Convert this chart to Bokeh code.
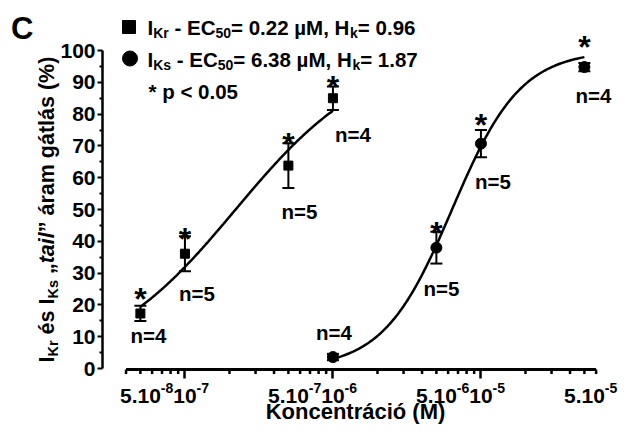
import math
import numpy as np
from bokeh.plotting import figure
from bokeh.models import (Range1d, FixedTicker, Whisker, TeeHead, ColumnDataSource, Label,
                          CustomJSTickFormatter)
from bokeh.embed import file_html
from bokeh.resources import INLINE
from bokeh.core.properties import value

# ---------------- data ----------------
kr_conc = [5e-8, 1e-7, 5e-7, 1e-6]
kr_mean = [17.3, 36.1, 63.8, 85.0]
kr_sem = [2.4, 5.5, 7.0, 3.7]
kr_n = ["n=4", "n=5", "n=5", "n=4"]
kr_sig = [True, True, True, True]

ks_conc = [1e-6, 5e-6, 1e-5, 5e-5]
ks_mean = [3.6, 38.0, 70.7, 94.8]
ks_sem = [1.0, 5.0, 4.3, 1.3]
ks_n = ["n=4", "n=5", "n=5", "n=4"]
ks_sig = [False, True, True, True]

kr_ec50, kr_hill = 0.22e-6, 0.96
ks_ec50, ks_hill = 6.38e-6, 1.87

x_ticks = [5e-8, 1e-7, 5e-7, 1e-6, 5e-6, 1e-5, 5e-5]
x_tick_base = ["5.10", "10", "5.10", "10", "5.10", "10", "5.10"]
x_tick_exp = ["-8", "-7", "-7", "-6", "-6", "-5", "-5"]
x_decades = [1e-7, 1e-6, 1e-5]
x_axis_span = (4e-8, 6e-5)
x_minor = [k * 10.0 ** e for e in (-8, -7, -6, -5) for k in range(2, 10)
           if x_axis_span[0] * 0.999 <= k * 10.0 ** e <= x_axis_span[1] * 1.001]
y_ticks = list(range(0, 101, 10))
y_minor = list(range(5, 100, 10))


def lg(values):
    """Concentrations are plotted on a log10 scale."""
    return [math.log10(v) for v in values]


# ---------------- layout (page pixels; the frame fills the whole canvas) ----------------
W, H = 626, 437
AXIS_X_PX, AXIS_Y_PX = 102, 369
LOG_AT_AXIS, PX_DEC = -7.557, 148.0
Y0, PX_U = 368.0, 3.18
FONT = "Liberation Sans"
F_MAIN, F_SUB = 20.5, 14
F_TICK, F_SUP = 21, 14
BL = 0.3   # baseline correction (fraction of font size)


def X(px):
    return LOG_AT_AXIS + (px - AXIS_X_PX) / PX_DEC


def Y(py):
    return (Y0 - py) / PX_U


EM = {' ': 278, '-': 333, '.': 278, ',': 278, '=': 584, '<': 584, '*': 389, '(': 333, ')': 333,
      '%': 889, 'µ': 611, '„': 500, '”': 500, 'I': 278, 'K': 722, 'E': 667, 'C': 722, 'M': 833,
      'H': 722, 'r': 389, 's': 556, 'k': 556, 'p': 611, 'a': 556, 'á': 556, 'é': 556, 'm': 889,
      'g': 611, 't': 333, 'l': 278, 'i': 278, 'n': 611, 'o': 611, 'ó': 611, 'c': 556, 'e': 556}


def tw(s, size):
    return sum(EM.get(ch, 556) for ch in s) / 1000.0 * size


p = figure(width=W, height=H, output_backend="svg", toolbar_location=None,
           x_range=Range1d(X(0), X(W)), y_range=Range1d(Y(H), Y(0)),
           min_border_left=0, min_border_right=0, min_border_top=0, min_border_bottom=0)
p.title.visible = False
p.grid.visible = False
p.outline_line_color = None
p.background_fill_color = "white"
p.border_fill_color = "white"

# x axis: library axis for the decade ticks; rule and minor ticks drawn along the same scale
xa = p.xaxis[0]
xa.fixed_location = Y(AXIS_Y_PX)
xa.ticker = FixedTicker(ticks=lg(x_decades), minor_ticks=[])
xa.formatter = CustomJSTickFormatter(code="return ''")
xa.bounds = tuple(lg(x_axis_span))
xa.axis_line_color = None
xa.major_tick_out, xa.major_tick_in, xa.major_tick_line_width = 9, 0, 2.5
xa.minor_tick_line_color = None

AX_LW, MINOR_W, MINOR_LEN = 3, 2.5, 3
span_lg = lg(x_axis_span)
rule = p.quad(left=[span_lg[0]], right=[span_lg[1]], top=[Y(AXIS_Y_PX - AX_LW / 2)],
              bottom=[Y(AXIS_Y_PX + AX_LW / 2)], fill_color="black", line_color=None)
minor_lg = lg(x_minor)
half = MINOR_W / 2 / PX_DEC
minor = p.quad(left=[v - half for v in minor_lg], right=[v + half for v in minor_lg],
               top=[Y(AXIS_Y_PX)] * len(minor_lg), bottom=[Y(AXIS_Y_PX + AX_LW / 2 + MINOR_LEN)] * len(minor_lg),
               fill_color="black", line_color=None)
rule.level = "overlay"
minor.level = "overlay"

ya = p.yaxis[0]
ya.fixed_location = X(AXIS_X_PX)
ya.ticker = FixedTicker(ticks=y_ticks, minor_ticks=y_minor)
ya.bounds = (0, 100)
ya.axis_line_width = 2.5
ya.major_tick_out, ya.major_tick_in, ya.major_tick_line_width = 5, 0, 2
ya.minor_tick_out, ya.minor_tick_in, ya.minor_tick_line_width = 3, 0, 2
ya.major_label_text_font = FONT
ya.major_label_text_font_style = "bold"
ya.major_label_text_font_size = f"{F_TICK}px"
ya.major_label_text_color = "black"
ya.major_label_standoff = 2


def hill(c, ec50, h):
    return 100.0 / (1.0 + (ec50 / c) ** h)


for conc, ec50, h in ((kr_conc, kr_ec50, kr_hill), (ks_conc, ks_ec50, ks_hill)):
    lx = np.linspace(math.log10(conc[0]), math.log10(conc[-1]), 200)
    p.line(lx, hill(10 ** lx, ec50, h), line_width=2.5, line_color="black")

for conc, mean, sem, marker, size in ((kr_conc, kr_mean, kr_sem, "square", 9),
                                      (ks_conc, ks_mean, ks_sem, "circle", 11)):
    src = ColumnDataSource(dict(x=lg(conc), y=mean,
                                lo=[m - s for m, s in zip(mean, sem)],
                                hi=[m + s for m, s in zip(mean, sem)]))
    p.add_layout(Whisker(source=src, base="x", lower="lo", upper="hi", dimension="height",
                         line_width=2, line_color="black",
                         lower_head=TeeHead(size=12, line_width=2, line_color="black"),
                         upper_head=TeeHead(size=12, line_width=2, line_color="black")))
    p.scatter("x", "y", source=src, marker=marker, size=size, fill_color="black", line_color="black")

# significance stars and n labels (offsets in px from the error-bar ends)
STAR_F = 32
star_dy = [[13, 4, 6, 6], [0, 5, 11, 22]]
n_dx = [[8, 12, 11, 20], [1, 5, 12, 9]]
n_dy = [[13, 21, 22, 23], [-26, 24, 23, 23]]
for si, (conc, mean, sem, sig, ns) in enumerate(((kr_conc, kr_mean, kr_sem, kr_sig, kr_n),
                                                 (ks_conc, ks_mean, ks_sem, ks_sig, ks_n))):
    sx, sy = [], []
    for i, c in enumerate(conc):
        if sig[i]:
            sx.append(math.log10(c))
            sy.append(mean[i] + sem[i] + (star_dy[si][i] - 0.2 * STAR_F) / PX_U)
    p.text(sx, sy, text=["*"] * len(sx), text_font=value(FONT), text_font_style="bold",
           text_font_size=f"{STAR_F}px", text_align="center", text_baseline="alphabetic",
           text_color="black")
    ny, nx_off = [], []
    for i, c in enumerate(conc):
        base = mean[i] - sem[i] if n_dy[si][i] >= 0 else mean[i]
        ny.append(base - (n_dy[si][i] + (0.36 - BL) * F_MAIN) / PX_U)
        nx_off.append(n_dx[si][i])
    p.text(lg(conc), ny, text=ns, x_offset=nx_off, text_font=value(FONT), text_font_style="bold",
           text_font_size=f"{F_MAIN}px", text_align="center", text_baseline="alphabetic",
           text_color="black")

# x tick labels with superscript exponents
TICK_BASE_PY = 401.7 - BL * F_TICK
p.text(lg(x_ticks), [Y(TICK_BASE_PY)] * len(x_ticks), text=x_tick_base, text_font=value(FONT),
       text_font_style="bold", text_font_size=f"{F_TICK}px", text_align="center",
       text_baseline="alphabetic", text_color="black")
p.text(lg(x_ticks), [Y(TICK_BASE_PY - 8)] * len(x_ticks), text=x_tick_exp,
       x_offset=[tw(b, F_TICK) / 2 for b in x_tick_base], text_font=value(FONT),
       text_font_style="bold", text_font_size=f"{F_SUP}px", text_align="left",
       text_baseline="alphabetic", text_color="black")


def label(px, py, text, size, style="bold", angle=0.0, align="left"):
    p.add_layout(Label(x=X(px), y=Y(py), text=text, text_font=FONT, text_font_style=style,
                       text_font_size=f"{size}px", text_align=align, text_baseline="alphabetic",
                       text_color="black", angle=angle))


def rich(px, py, pieces, main, sub, vertical=False):
    pos = 0.0
    for text, kind in pieces:
        size = sub if kind == "sub" else main
        style = "bold italic" if kind == "it" else "bold"
        shift = 4 - BL * size if kind == "sub" else -BL * size
        core = text.strip(" ")
        lead = tw(text[:len(text) - len(text.lstrip(" "))], size)
        if vertical:
            label(px + shift, py - pos - lead, core, size, style, angle=math.pi / 2)
        else:
            label(px + pos + lead, py + shift, core, size, style)
        pos += tw(text, size)


# x axis title
F_TITLE = 22
label(355, 418 - BL * F_TITLE, "Koncentráció (M)", F_TITLE, align="center")

# y axis title (rotated, with subscripts and italics)
rich(53, 362, [("I", "n"), ("Kr", "sub"), (" és I", "n"), ("Ks", "sub"), (" „", "n"),
               ("tail", "it"), ("” áram gátlás (%)", "n")], 21.5, 14.5, vertical=True)

# panel letter
label(10.5, 37 - BL * 31, "C", 31)

# legend
p.scatter([X(128.5)], [Y(26.5)], marker="square", size=13, fill_color="black", line_color="black")
p.scatter([X(129.5)], [Y(58)], marker="circle", size=15, fill_color="black", line_color="black")
rich(147, 33, [("I", "n"), ("Kr", "sub"), (" - EC", "n"), ("50", "sub"), (f"= {kr_ec50 * 1e6:.2f} µM, H", "n"),
               ("k", "sub"), (f"= {kr_hill:.2f}", "n")], F_MAIN, F_SUB)
rich(147, 65, [("I", "n"), ("Ks", "sub"), (" - EC", "n"), ("50", "sub"), (f"= {ks_ec50 * 1e6:.2f} µM, H", "n"),
               ("k", "sub"), (f"= {ks_hill:.2f}", "n")], F_MAIN, F_SUB)
label(148, 97 - BL * F_MAIN, "* p < 0.05", F_MAIN)

open("out.html", "w").write(file_html(p, INLINE))
